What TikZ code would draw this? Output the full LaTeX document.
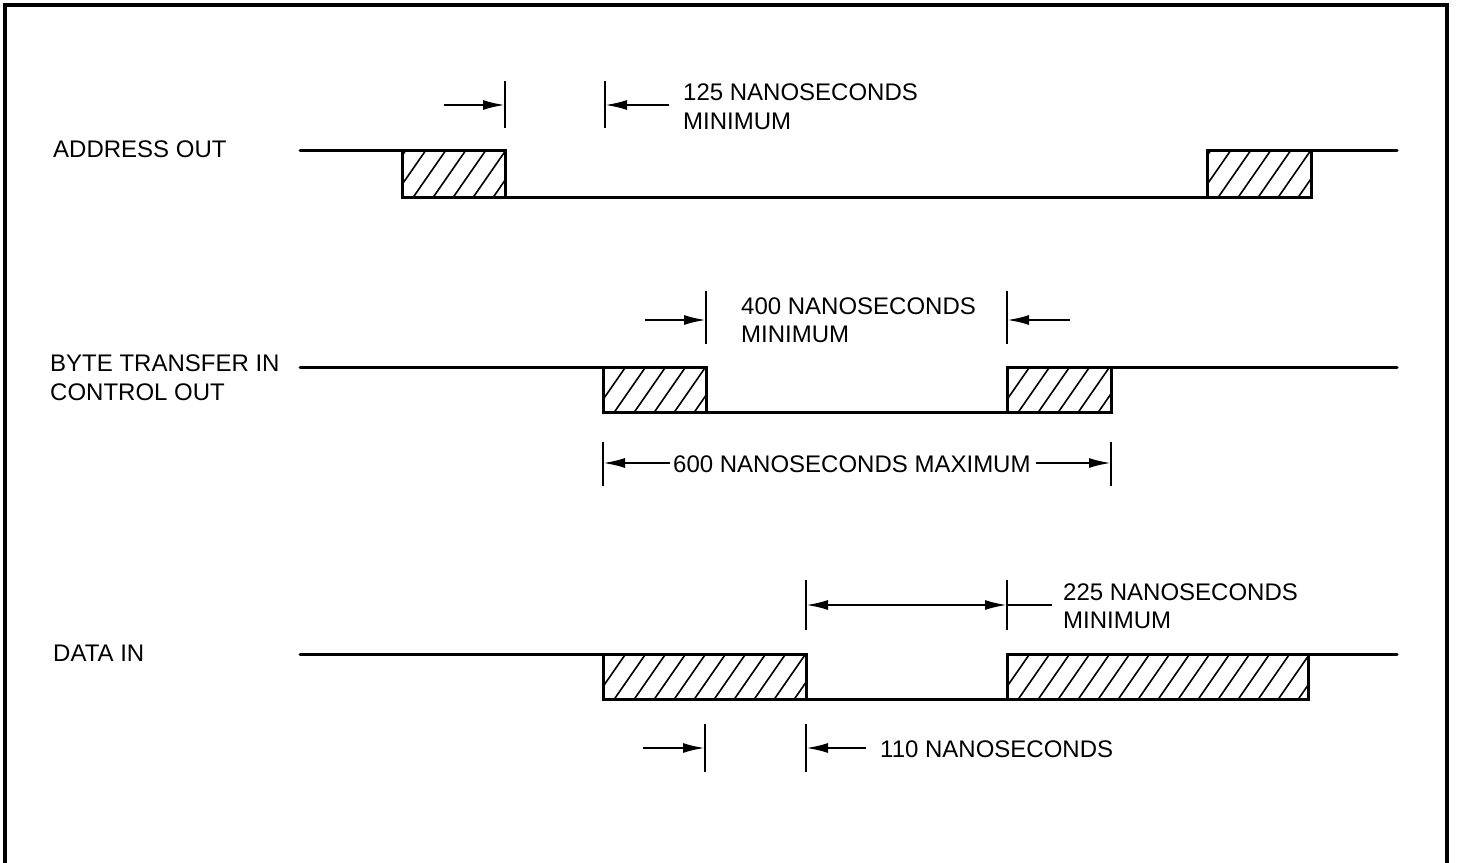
\documentclass[tikz,border=0pt]{standalone}
\usepackage{fontspec}
\setmainfont{Liberation Sans}
\usetikzlibrary{arrows.meta}
\tikzset{
  wave/.style={line width=3pt, line cap=round, line join=miter},
  frame/.style={line width=3.2pt},
  tick/.style={line width=2.6pt},
  hatch/.style={line width=1.6pt},
  dim/.style={line width=2.2pt, -{Latex[length=22pt,width=10pt]}},
  dimboth/.style={line width=2.2pt, {Latex[length=22pt,width=10pt]}-{Latex[length=22pt,width=10pt]}},
  lbl/.style={anchor=base west, inner sep=0pt, font=\fontsize{24}{28}\selectfont},
}
\newcommand{\hatchbox}[4]{%
  \begin{scope}
    \clip (#1,#2) rectangle (#3,#4);
    \foreach \k in {0,...,18} {
      \draw[hatch] ({#1+\k*20-30},#4+2) -- ++(34,-49);
    }
  \end{scope}
  \draw[wave] (#1,#2) rectangle (#3,#4);
}
\begin{document}
\begin{tikzpicture}[x=1pt,y=-1pt]
\useasboundingbox (0,0) rectangle (1464,862);
% frame
\draw[frame] (5,866) -- (5,5) -- (1447,5) -- (1447,866);

% ---------- ADDRESS OUT ----------
\node[lbl] (lA) at (53,157) {ADDRESS OUT};
\hatchbox{402}{150}{505}{197}
\hatchbox{1207}{150}{1311}{197}
\draw[wave] (300,150) -- (402,150);
\draw[wave] (505,197) -- (1207,197);
\draw[wave] (1311,150) -- (1397,150);
\coordinate (a1t) at (505,81); \coordinate (a1b) at (505,128);
\coordinate (a2t) at (605,81); \coordinate (a2b) at (605,128);
\draw[tick] (a1t) -- (a1b);
\draw[tick] (a2t) -- (a2b);
\coordinate (a1s) at (444,105); \coordinate (a1e) at (505,105);
\coordinate (a2s) at (669,105); \coordinate (a2e) at (605,105);
\draw[dim] (a1s) -- (a1e);
\draw[dim] (a2s) -- (a2e);
\node[lbl] (t125a) at (683,100) {125 NANOSECONDS};
\node[lbl] (t125b) at (683,129) {MINIMUM};

% ---------- BYTE TRANSFER IN ----------
\node[lbl] (lB1) at (50,371) {BYTE TRANSFER IN};
\node[lbl] (lB2) at (50,400) {CONTROL OUT};
\hatchbox{603}{367}{706}{412}
\hatchbox{1007}{367}{1111}{412}
\draw[wave] (300,367) -- (603,367);
\draw[wave] (706,412) -- (1007,412);
\draw[wave] (1111,367) -- (1397,367);
\coordinate (b1t) at (706,291); \coordinate (b1b) at (706,344);
\coordinate (b2t) at (1007,291); \coordinate (b2b) at (1007,344);
\draw[tick] (b1t) -- (b1b);
\draw[tick] (b2t) -- (b2b);
\coordinate (b1s) at (645,320); \coordinate (b1e) at (706,320);
\coordinate (b2s) at (1070,320); \coordinate (b2e) at (1007,320);
\draw[dim] (b1s) -- (b1e);
\draw[dim] (b2s) -- (b2e);
\node[lbl] (t400a) at (741,314) {400 NANOSECONDS};
\node[lbl] (t400b) at (741,342) {MINIMUM};
% 600 max
\coordinate (c1t) at (603,442); \coordinate (c1b) at (603,486);
\coordinate (c2t) at (1111,442); \coordinate (c2b) at (1111,486);
\draw[tick] (c1t) -- (c1b);
\draw[tick] (c2t) -- (c2b);
\node[lbl] (t600) at (673,472) {600 NANOSECONDS MAXIMUM};
\coordinate (c1s) at (670,463); \coordinate (c1e) at (603,463);
\coordinate (c2s) at (1036,463); \coordinate (c2e) at (1111,463);
\draw[dim] (c1s) -- (c1e);
\draw[dim] (c2s) -- (c2e);

% ---------- DATA IN ----------
\node[lbl] (lD) at (53,661) {DATA IN};
\hatchbox{603}{654}{806}{699}
\hatchbox{1007}{654}{1308}{699}
\draw[wave] (300,654) -- (603,654);
\draw[wave] (806,699) -- (1007,699);
\draw[wave] (1308,654) -- (1397,654);
\coordinate (d1t) at (806,580); \coordinate (d1b) at (806,630);
\coordinate (d2t) at (1007,580); \coordinate (d2b) at (1007,630);
\draw[tick] (d1t) -- (d1b);
\draw[tick] (d2t) -- (d2b);
\coordinate (d1m) at (806,605); \coordinate (d2m) at (1007,605);
\coordinate (d3m) at (1052,605);
\draw[dimboth] (d1m) -- (d2m);
\draw[line width=2.2pt] (d2m) -- (d3m);
\node[lbl] (t225a) at (1063,600) {225 NANOSECONDS};
\node[lbl] (t225b) at (1063,628) {MINIMUM};
% 110
\coordinate (e1t) at (705,724); \coordinate (e1b) at (705,772);
\coordinate (e2t) at (806,724); \coordinate (e2b) at (806,772);
\draw[tick] (e1t) -- (e1b);
\draw[tick] (e2t) -- (e2b);
\coordinate (e1s) at (643,748); \coordinate (e1e) at (705,748);
\coordinate (e2s) at (866,748); \coordinate (e2e) at (806,748);
\draw[dim] (e1s) -- (e1e);
\draw[dim] (e2s) -- (e2e);
\node[lbl] (t110) at (880,757) {110 NANOSECONDS};
\end{tikzpicture}
\end{document}
